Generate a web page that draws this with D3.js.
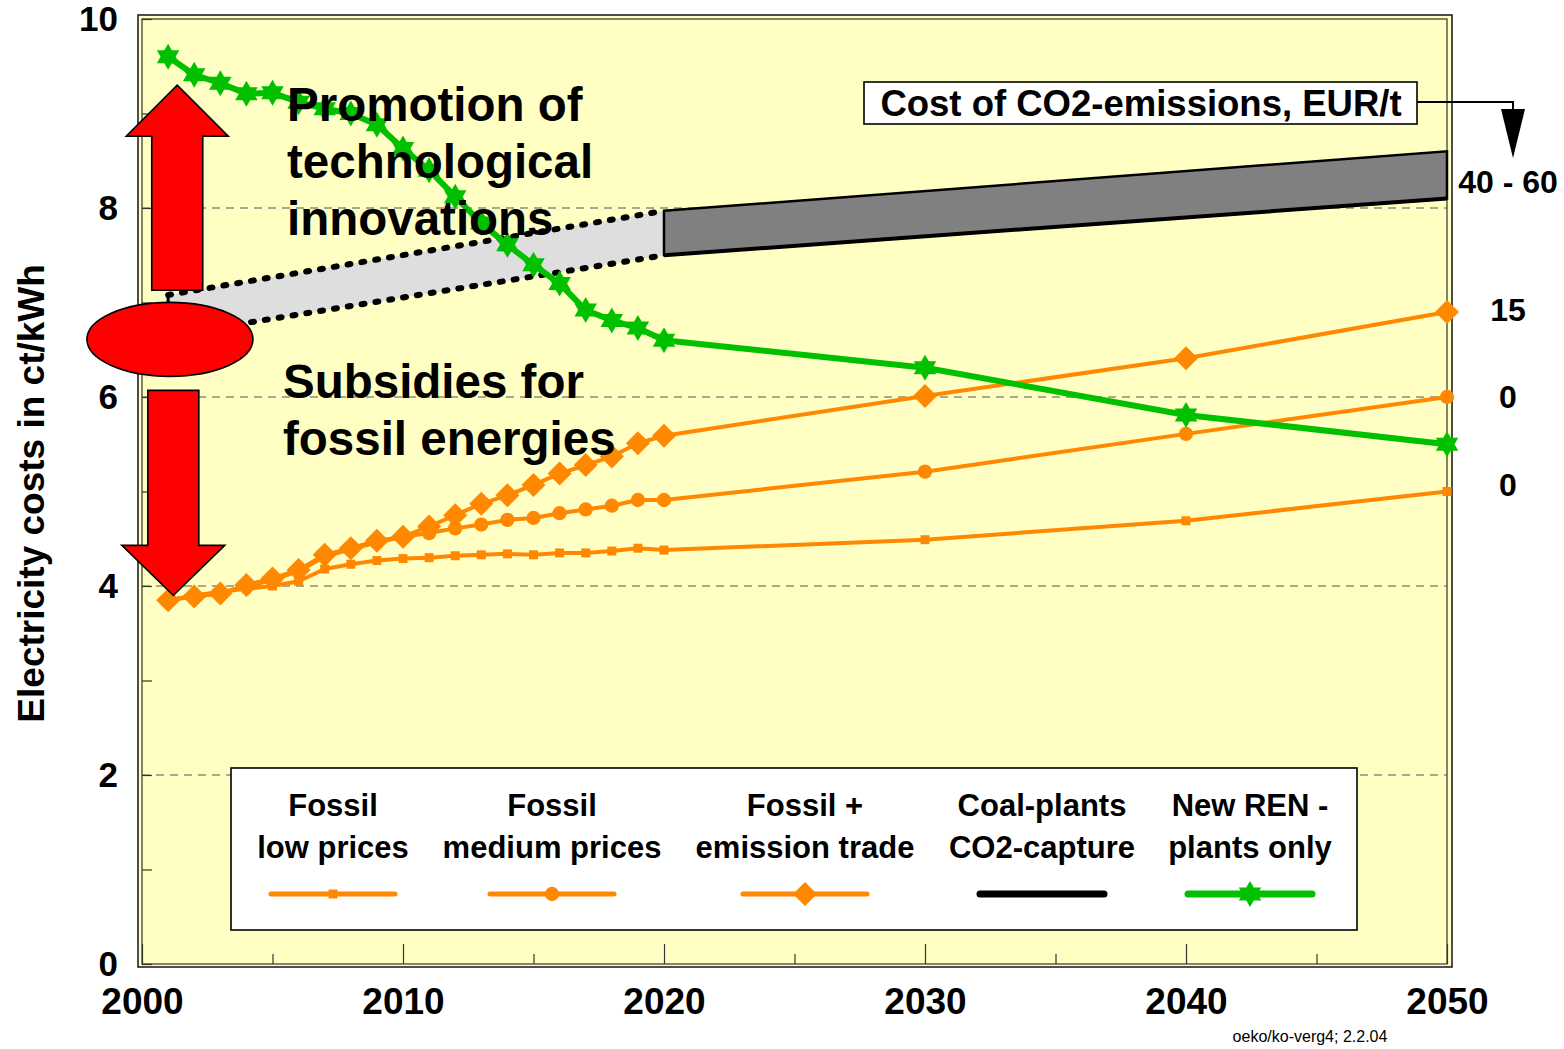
<!DOCTYPE html>
<html>
<head>
<meta charset="utf-8">
<script src="https://cdn.jsdelivr.net/npm/d3@7"></script>
<style>
  html, body { margin: 0; padding: 0; background: #ffffff; }
  svg { display: block; font-family: "Liberation Sans", Arial, Helvetica, sans-serif; }
</style>
</head>
<body>
<svg id="chart" width="1564" height="1049"></svg>
<script>
// ---- data -------------------------------------------------------------
const years = [2001, 2002, 2003, 2004, 2005, 2006, 2007, 2008, 2009, 2010,
               2011, 2012, 2013, 2014, 2015, 2016, 2017, 2018, 2019, 2020,
               2030, 2040, 2050];

const fossilLow = [3.85, 3.90, 3.94, 3.97, 4.00, 4.05, 4.18, 4.23, 4.27, 4.29,
                   4.30, 4.32, 4.33, 4.34, 4.33, 4.35, 4.35, 4.37, 4.40, 4.38,
                   4.49, 4.69, 5.00];

const fossilMedium = [3.85, 3.89, 3.92, 4.00, 4.06, 4.16, 4.31, 4.39, 4.46, 4.52,
                      4.56, 4.61, 4.65, 4.70, 4.72, 4.77, 4.81, 4.85, 4.91, 4.91,
                      5.21, 5.61, 6.00];

const fossilTrade = [3.85, 3.89, 3.92, 4.01, 4.08, 4.17, 4.33, 4.40, 4.48, 4.52,
                     4.63, 4.75, 4.87, 4.96, 5.07, 5.19, 5.28, 5.37, 5.51, 5.59,
                     6.01, 6.41, 6.90];

const newRen = [9.60, 9.41, 9.32, 9.21, 9.22, 9.12, 9.05, 9.00, 8.88, 8.63,
                8.40, 8.12, 7.84, 7.61, 7.40, 7.20, 6.92, 6.81, 6.73, 6.60,
                6.31, 5.81, 5.50];

// coal plants with CO2 capture: a cost band (dotted before 2020, solid after)
const coalYears = [2001, 2020, 2050];
const coalLow   = [6.65, 7.50, 8.10];
const coalHigh  = [7.08, 7.97, 8.60];

const xTicks = [2000, 2010, 2020, 2030, 2040, 2050];
const xMinorTicks = [2005, 2015, 2025, 2035, 2045];
const yTicks = [0, 2, 4, 6, 8, 10];
const yAllTicks = [0, 1, 2, 3, 4, 5, 6, 7, 8, 9, 10];

// CO2 cost annotations at the 2050 end of each scenario
const co2Labels = ["40 - 60", "15", "0", "0"];
const co2LabelValues = [8.28, 6.93, 6.01, 5.07];

const legendLabels = [
  ["Fossil", "low prices"],
  ["Fossil", "medium prices"],
  ["Fossil +", "emission trade"],
  ["Coal-plants", "CO2-capture"],
  ["New REN -", "plants only"]
];

// ---- setup ------------------------------------------------------------
const ORANGE = "#ff8800";
const GREEN = "#00c000";
const BG = "#ffffc4";

const svg = d3.select("#chart");
const x = d3.scaleLinear().domain([2000, 2050]).range([142, 1447]);
const y = d3.scaleLinear().domain([0, 10]).range([964, 19]);

// plot frame (double border)
svg.append("rect").attr("x", 138).attr("y", 15).attr("width", 1314).attr("height", 952)
  .attr("fill", BG).attr("stroke", "#222").attr("stroke-width", 1.6);
svg.append("rect").attr("x", 142).attr("y", 19).attr("width", 1305).attr("height", 945)
  .attr("fill", "none").attr("stroke", "#333").attr("stroke-width", 1.2);

// dashed gridlines
svg.append("g").selectAll("line").data([2, 4, 6, 8]).join("line")
  .attr("x1", x(2000)).attr("x2", x(2050))
  .attr("y1", d => y(d)).attr("y2", d => y(d))
  .attr("stroke", "#555").attr("stroke-width", 1.2).attr("stroke-dasharray", "8,6");

// y axis: inward ticks on every integer, labels on even values
const yTickAxis = svg.append("g").attr("transform", `translate(${x(2000)},0)`)
  .call(d3.axisLeft(y).tickValues(yAllTicks).tickSizeInner(-10).tickSizeOuter(0).tickFormat(""));
yTickAxis.select(".domain").remove();
yTickAxis.selectAll("line").attr("stroke", "#333").attr("stroke-width", 1.2);

const yLabelAxis = svg.append("g").attr("transform", `translate(${x(2000)},0)`)
  .call(d3.axisLeft(y).tickValues(yTicks).tickSize(0).tickPadding(24).tickFormat(d3.format("d")));
yLabelAxis.select(".domain").remove();
yLabelAxis.selectAll("text").attr("font-size", 35).attr("font-weight", "bold")
  .attr("fill", "#000").attr("font-family", "Liberation Sans, Arial, sans-serif");

// x axis: long inward ticks per decade, short ticks in between
const xAxis = svg.append("g").attr("transform", `translate(0,${y(0)})`)
  .call(d3.axisBottom(x).tickValues(xTicks).tickSizeInner(-20).tickSizeOuter(0)
        .tickPadding(24).tickFormat(d3.format("d")));
xAxis.select(".domain").remove();
xAxis.selectAll("line").attr("stroke", "#333").attr("stroke-width", 1.2);
xAxis.selectAll("text").attr("font-size", 37).attr("font-weight", "bold")
  .attr("fill", "#000").attr("font-family", "Liberation Sans, Arial, sans-serif");

const xMinor = svg.append("g").attr("transform", `translate(0,${y(0)})`)
  .call(d3.axisBottom(x).tickValues(xMinorTicks).tickSizeInner(-10).tickSizeOuter(0).tickFormat(""));
xMinor.select(".domain").remove();
xMinor.selectAll("line").attr("stroke", "#333").attr("stroke-width", 1.2);

// ---- coal band --------------------------------------------------------
const bandArea = d3.area().x((d, i) => x(d.year)).y0(d => y(d.low)).y1(d => y(d.high));
const band = coalYears.map((yr, i) => ({ year: yr, low: coalLow[i], high: coalHigh[i] }));
const bandEarly = band.slice(0, 2);
const bandLate = band.slice(1);

svg.append("path").datum(bandEarly).attr("d", bandArea).attr("fill", "#dedede");
const dotted = svg.append("g");
["low", "high"].forEach(k => {
  dotted.append("path").datum(bandEarly)
    .attr("d", d3.line().x(d => x(d.year)).y(d => y(d[k])))
    .attr("fill", "none").attr("stroke", "#000").attr("stroke-width", 6)
    .attr("stroke-linecap", "round").attr("stroke-dasharray", "3,11");
});
// vertical edge at the start of the band
svg.append("line").attr("x1", x(2001)).attr("x2", x(2001))
  .attr("y1", y(coalLow[0])).attr("y2", y(coalHigh[0]))
  .attr("stroke", "#000").attr("stroke-width", 3);

svg.append("path").datum(bandLate).attr("d", bandArea)
  .attr("fill", "#808080").attr("stroke", "#000").attr("stroke-width", 2.5)
  .attr("stroke-linejoin", "miter");
svg.append("path").datum(bandLate)
  .attr("d", d3.line().x(d => x(d.year)).y(d => y(d.low)))
  .attr("fill", "none").attr("stroke", "#000").attr("stroke-width", 4);

// ---- series -----------------------------------------------------------
const line = d3.line().x(d => x(d.year)).y(d => y(d.v));
const toPts = arr => years.map((yr, i) => ({ year: yr, v: arr[i] }));

function starPath(r) {
  // six-pointed star made of two triangles
  const pts = [];
  for (let i = 0; i < 12; i++) {
    const a = -Math.PI / 2 + i * Math.PI / 6;
    const rr = i % 2 === 0 ? r : r * 0.58;
    pts.push([rr * Math.cos(a), rr * Math.sin(a)]);
  }
  return "M" + pts.map(p => p.join(",")).join("L") + "Z";
}
const markers = {
  square: () => "M-4.5,-4.5H4.5V4.5H-4.5Z",
  circle: () => d3.symbol(d3.symbolCircle, 160)(),
  diamond: () => "M0,-12L12,0L0,12L-12,0Z",
  star: () => starPath(13)
};

const series = [
  { data: fossilLow, color: ORANGE, width: 4, marker: "square" },
  { data: fossilMedium, color: ORANGE, width: 4, marker: "circle" },
  { data: fossilTrade, color: ORANGE, width: 4, marker: "diamond" },
  { data: newRen, color: GREEN, width: 6, marker: "star" }
];

series.forEach(s => {
  const pts = toPts(s.data);
  const g = svg.append("g");
  g.append("path").datum(pts).attr("d", line)
    .attr("fill", "none").attr("stroke", s.color).attr("stroke-width", s.width)
    .attr("stroke-linejoin", "round");
  g.selectAll("path.m").data(pts).join("path").attr("class", "m")
    .attr("transform", d => `translate(${x(d.year)},${y(d.v)})`)
    .attr("d", markers[s.marker]())
    .attr("fill", s.color);
});

// ---- annotations: arrows and ellipse -----------------------------------
const ax = x(2001.35);
function arrowUp(cx, yBottom, yHeadBase, yTip, shaftHalf, headHalf) {
  return `M${cx - shaftHalf},${yBottom}V${yHeadBase}H${cx - headHalf}L${cx},${yTip}` +
         `L${cx + headHalf},${yHeadBase}H${cx + shaftHalf}V${yBottom}Z`;
}
svg.append("path")
  .attr("d", arrowUp(ax, y(7.13), y(8.76), y(9.3), 25.5, 51))
  .attr("fill", "#ff0000").attr("stroke", "#000").attr("stroke-width", 1.6);
svg.append("path")
  .attr("d", arrowUp(x(2001.2), y(6.07), y(4.43), y(3.9), 25.5, 51.5))
  .attr("fill", "#ff0000").attr("stroke", "#000").attr("stroke-width", 1.6);
svg.append("ellipse").attr("cx", x(2001.07)).attr("cy", y(6.61)).attr("rx", 83).attr("ry", 37)
  .attr("fill", "#ff0000").attr("stroke", "#000").attr("stroke-width", 1.6);

// ---- annotation texts ---------------------------------------------------
const bigText = svg.append("g").attr("font-size", 47.5).attr("font-weight", "bold").attr("fill", "#000");
[["Promotion of", 121], ["technological", 178], ["innovations", 235]].forEach(([t, b]) =>
  bigText.append("text").attr("x", 287).attr("y", b).text(t));
[["Subsidies for", 398], ["fossil energies", 455]].forEach(([t, b]) =>
  bigText.append("text").attr("x", 283).attr("y", b).text(t));

// CO2 cost box with pointer to the right-hand labels
svg.append("rect").attr("x", 864).attr("y", 82).attr("width", 553).attr("height", 42)
  .attr("fill", "#fff").attr("stroke", "#000").attr("stroke-width", 1.6);
svg.append("text").attr("x", 1141).attr("y", 116).attr("text-anchor", "middle")
  .attr("font-size", 36.5).attr("font-weight", "bold").text("Cost of CO2-emissions, EUR/t");
svg.append("path").attr("d", "M1417,102H1513V112")
  .attr("fill", "none").attr("stroke", "#000").attr("stroke-width", 2);
svg.append("path").attr("d", "M1501,109L1525,109L1513,158Z").attr("fill", "#000");

svg.append("g").selectAll("text").data(co2Labels).join("text")
  .attr("x", 1508).attr("y", (d, i) => y(co2LabelValues[i]))
  .attr("dy", "0.36em").attr("text-anchor", "middle")
  .attr("font-size", 32).attr("font-weight", "bold").text(d => d);

// y axis title
svg.append("text").attr("transform", `translate(44,${y(4.98)}) rotate(-90)`)
  .attr("text-anchor", "middle").attr("font-size", 37).attr("font-weight", "bold")
  .text("Electricity costs in ct/kWh");

// ---- legend -------------------------------------------------------------
svg.append("rect").attr("x", 231).attr("y", 768).attr("width", 1126).attr("height", 162)
  .attr("fill", "#fff").attr("stroke", "#000").attr("stroke-width", 1.6);
const legendCenters = [333, 552, 805, 1042, 1250];
const legendStyles = [
  { color: ORANGE, width: 5, marker: "square" },
  { color: ORANGE, width: 5, marker: "circle" },
  { color: ORANGE, width: 5, marker: "diamond" },
  { color: "#000", width: 7, marker: null },
  { color: GREEN, width: 7, marker: "star" }
];
legendLabels.forEach((lines, i) => {
  const cx = legendCenters[i];
  const g = svg.append("g");
  lines.forEach((t, j) => g.append("text").attr("x", cx).attr("y", 816 + j * 42)
    .attr("text-anchor", "middle").attr("font-size", 31).attr("font-weight", "bold").text(t));
  const st = legendStyles[i];
  g.append("line").attr("x1", cx - 62).attr("x2", cx + 62).attr("y1", 894).attr("y2", 894)
    .attr("stroke", st.color).attr("stroke-width", st.width).attr("stroke-linecap", "round");
  if (st.marker) {
    g.append("path").attr("transform", `translate(${cx},894)`)
      .attr("d", markers[st.marker]()).attr("fill", st.color);
  }
});

// source note
svg.append("text").attr("x", 1310).attr("y", 1042).attr("text-anchor", "middle")
  .attr("font-size", 16).attr("fill", "#000").text("oeko/ko-verg4; 2.2.04");
</script>
</body>
</html>
